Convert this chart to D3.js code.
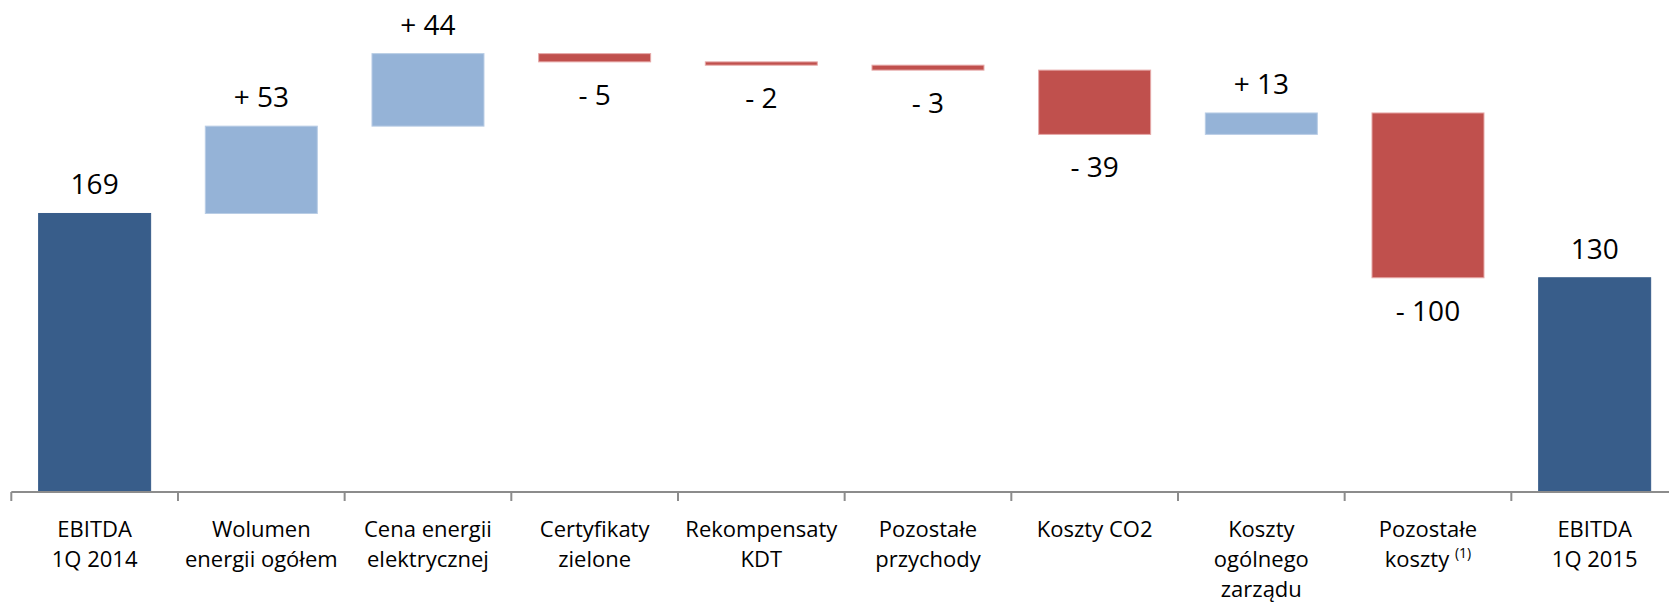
<!DOCTYPE html>
<html>
<head>
<meta charset="utf-8">
<script src="https://cdn.jsdelivr.net/npm/d3@7"></script>
<style>
  html, body { margin: 0; padding: 0; background: #fff; }
  text { font-family: "Open Sans", "DejaVu Sans", sans-serif; fill: #000; }
</style>
</head>
<body>
<div class="chart"></div>
<script>
// categories, one array of lines per bar
var categories = [
  ["EBITDA", "1Q 2014"],
  ["Wolumen", "energii ogółem"],
  ["Cena energii", "elektrycznej"],
  ["Certyfikaty", "zielone"],
  ["Rekompensaty", "KDT"],
  ["Pozostałe", "przychody"],
  ["Koszty CO2"],
  ["Koszty", "ogólnego", "zarządu"],
  ["Pozostałe", "koszty"],
  ["EBITDA", "1Q 2015"]
];
var values = [169, 53, 44, -5, -2, -3, -39, 13, -100, 130];
var isTotal = [true, false, false, false, false, false, false, false, false, true];
var footnotes = ["", "", "", "", "", "", "", "", "(1)", ""];

var W = 1669, H = 604;
var axisY = 492;

// running sum for the waterfall
var running = 0;
var bars = values.map(function(v, i) {
  var start, end;
  if (isTotal[i]) { start = 0; end = v; running = v; }
  else { start = running; end = running + v; running = end; }
  return { i: i, value: v, lo: Math.min(start, end), hi: Math.max(start, end), total: isTotal[i] };
});

var xScale = d3.scaleBand()
    .domain(d3.range(categories.length))
    .range([11.3, 1678]);

var yScale = d3.scaleLinear()
    .domain([0, 300])
    .range([axisY, axisY - 300 * 1.648]);

var barW = xScale.bandwidth() * 0.672;

var svg = d3.select(".chart").append("svg")
    .attr("width", W)
    .attr("height", H);

// bars
svg.selectAll(".bar")
    .data(bars)
  .enter().append("rect")
    .attr("class", "bar")
    .attr("x", function(d) { return xScale(d.i) + (xScale.bandwidth() - barW) / 2; })
    .attr("width", barW)
    .attr("y", function(d) { return yScale(d.hi); })
    .attr("height", function(d) { return Math.max(1, yScale(d.lo) - yScale(d.hi)); })
    .style("fill", function(d) { return d.total ? "#385D8A" : (d.value >= 0 ? "#95B3D7" : "#C0504D"); })
    .style("stroke", function(d) { return d.total ? "#385D8A" : (d.value >= 0 ? "#B9CDE5" : "#E6A9A8"); })
    .style("stroke-width", 1);

// value labels
svg.selectAll(".val")
    .data(bars)
  .enter().append("text")
    .attr("class", "val")
    .attr("x", function(d) { return xScale(d.i) + xScale.bandwidth() / 2; })
    .attr("y", function(d) { return d.value >= 0 ? yScale(d.hi) - 19 : yScale(d.lo) + 43; })
    .attr("text-anchor", "middle")
    .style("font-size", "28px")
    .text(function(d) {
      if (d.total) return d.value;
      return (d.value >= 0 ? "+ " : "- ") + Math.abs(d.value);
    });

// axis line and ticks between categories
var axis = svg.append("g").attr("class", "axisColor");
axis.append("line")
    .attr("x1", xScale.range()[0]).attr("x2", xScale.range()[1])
    .attr("y1", axisY).attr("y2", axisY)
    .style("stroke", "#8C8C8C").style("stroke-width", 2);

axis.selectAll(".tick")
    .data(d3.range(categories.length + 1))
  .enter().append("line")
    .attr("class", "tick")
    .attr("x1", function(k) { return xScale.range()[0] + k * xScale.step(); })
    .attr("x2", function(k) { return xScale.range()[0] + k * xScale.step(); })
    .attr("y1", axisY).attr("y2", axisY + 9)
    .style("stroke", "#8C8C8C").style("stroke-width", 2);

// category labels
var labels = svg.selectAll(".cat")
    .data(categories)
  .enter().append("text")
    .attr("class", "cat")
    .attr("text-anchor", "middle")
    .style("font-size", "22px");

labels.each(function(lines, i) {
  var t = d3.select(this);
  var cx = xScale(i) + xScale.bandwidth() / 2;
  lines.forEach(function(line, j) {
    var ts = t.append("tspan")
        .attr("x", cx)
        .attr("y", 537 + j * 30)
        .text(line);
    if (j === lines.length - 1 && footnotes[i]) {
      ts.text(line + " ");
      ts.append("tspan")
          .attr("dy", -9)
          .style("font-size", "14px")
          .text(footnotes[i]);
    }
  });
});
</script>
</body>
</html>
